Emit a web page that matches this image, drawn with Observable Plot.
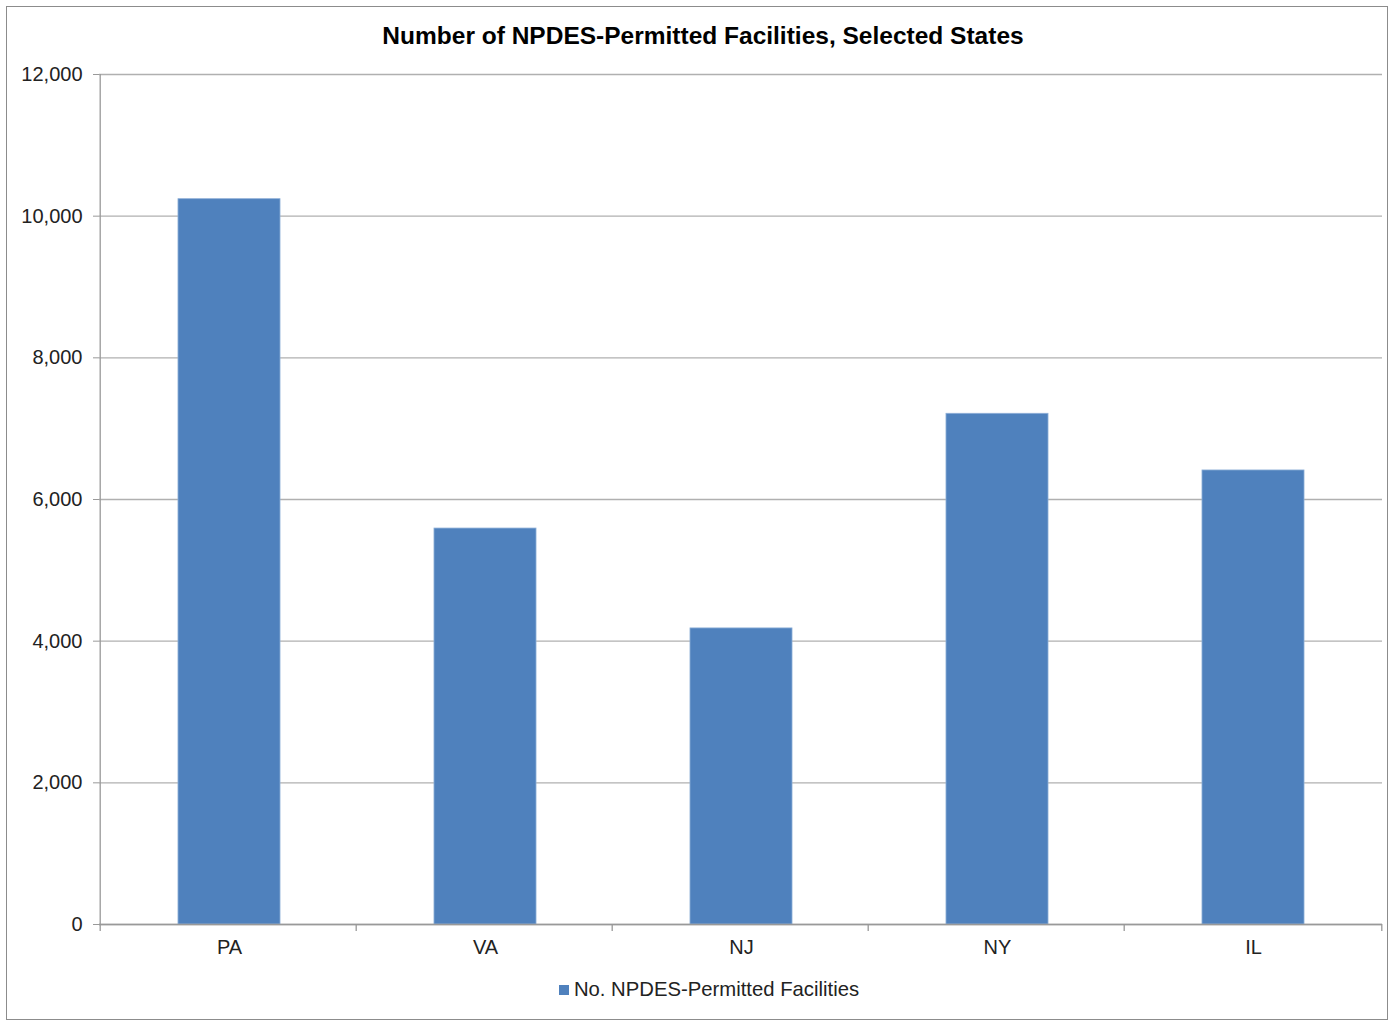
<!DOCTYPE html>
<html>
<head>
<meta charset="utf-8">
<script src="https://cdn.jsdelivr.net/npm/d3@7"></script>
<script src="https://cdn.jsdelivr.net/npm/@observablehq/plot@0.6"></script>
<style>
  html, body { margin: 0; padding: 0; background: #fff; }
  body { width: 1391px; height: 1022px; position: relative; overflow: hidden; font-family: "Liberation Sans", Arial, sans-serif; }
  #frame { position: absolute; left: 6px; top: 6px; width: 1382px; height: 1014px; border: 1px solid #8c8c8c; box-sizing: border-box; }
  #title { position: absolute; left: 0; width: 1406px; top: 22px; text-align: center; font-weight: bold; font-size: 24.5px; color: #000; letter-spacing: 0; }
  #chart { position: absolute; left: 0; top: 0; }
  #legend { position: absolute; left: 0; width: 1418px; top: 978px; text-align: center; font-size: 20.3px; color: #222; }
  #legend .sw { display: inline-block; width: 10px; height: 10px; background: #4F81BD; margin-right: 5px; vertical-align: 1px; }
</style>
</head>
<body>
<div id="frame"></div>
<div id="chart"></div>
<div id="title">Number of NPDES-Permitted Facilities, Selected States</div>
<div id="legend"><span class="sw"></span>No. NPDES-Permitted Facilities</div>
<script>
const states = ["PA", "VA", "NJ", "NY", "IL"];
const facilities = [10240, 5590, 4180, 7210, 6410];
const yTicks = [0, 2000, 4000, 6000, 8000, 10000, 12000];
const seriesName = "No. NPDES-Permitted Facilities";

const data = states.map((s, i) => ({state: s, value: facilities[i]}));

const W = 1391, H = 960, mL = 99, mR = 9, mT = 74, mB = 36;
const bw = (W - mL - mR) / states.length;

const chart = Plot.plot({
  width: W,
  height: H,
  marginTop: mT,
  marginLeft: mL,
  marginRight: mR,
  marginBottom: mB,
  x: {domain: states, padding: 0, label: null},
  y: {domain: [0, 12000], label: null},
  style: {fontFamily: "'Liberation Sans', Arial, sans-serif", fontSize: "20px", color: "#222", background: "transparent"},
  marks: [
    Plot.ruleY(yTicks, {stroke: "#b0b0b0", strokeWidth: 1.3}),
    Plot.barY(data, {x: "state", y: "value", fill: "#4F81BD", stroke: "#8fb0d8", strokeWidth: 0.8, insetLeft: bw * 0.3, insetRight: bw * 0.3}),
    Plot.ruleY([0], {stroke: "#999", strokeWidth: 1.3}),
    Plot.ruleX([states[0]], {x: d => d, dx: -bw / 2 - 1, stroke: "#999", strokeWidth: 1.3}),
    Plot.ruleX(states, {x: d => d, dx: -bw / 2 - 1, y1: 0, y2: 0, insetBottom: -7, stroke: "#999", strokeWidth: 1.3}),
    Plot.ruleX([states[states.length - 1]], {x: d => d, dx: bw / 2, y1: 0, y2: 0, insetBottom: -7, stroke: "#999", strokeWidth: 1.3}),
    Plot.axisY({ticks: yTicks, tickFormat: d3.format(","), tickSize: 6, tickPadding: 11, stroke: "#999", label: null}),
    Plot.axisX({tickSize: 0, tickPadding: 15, label: null})
  ]
});
document.getElementById("chart").appendChild(chart);
</script>
</body>
</html>
